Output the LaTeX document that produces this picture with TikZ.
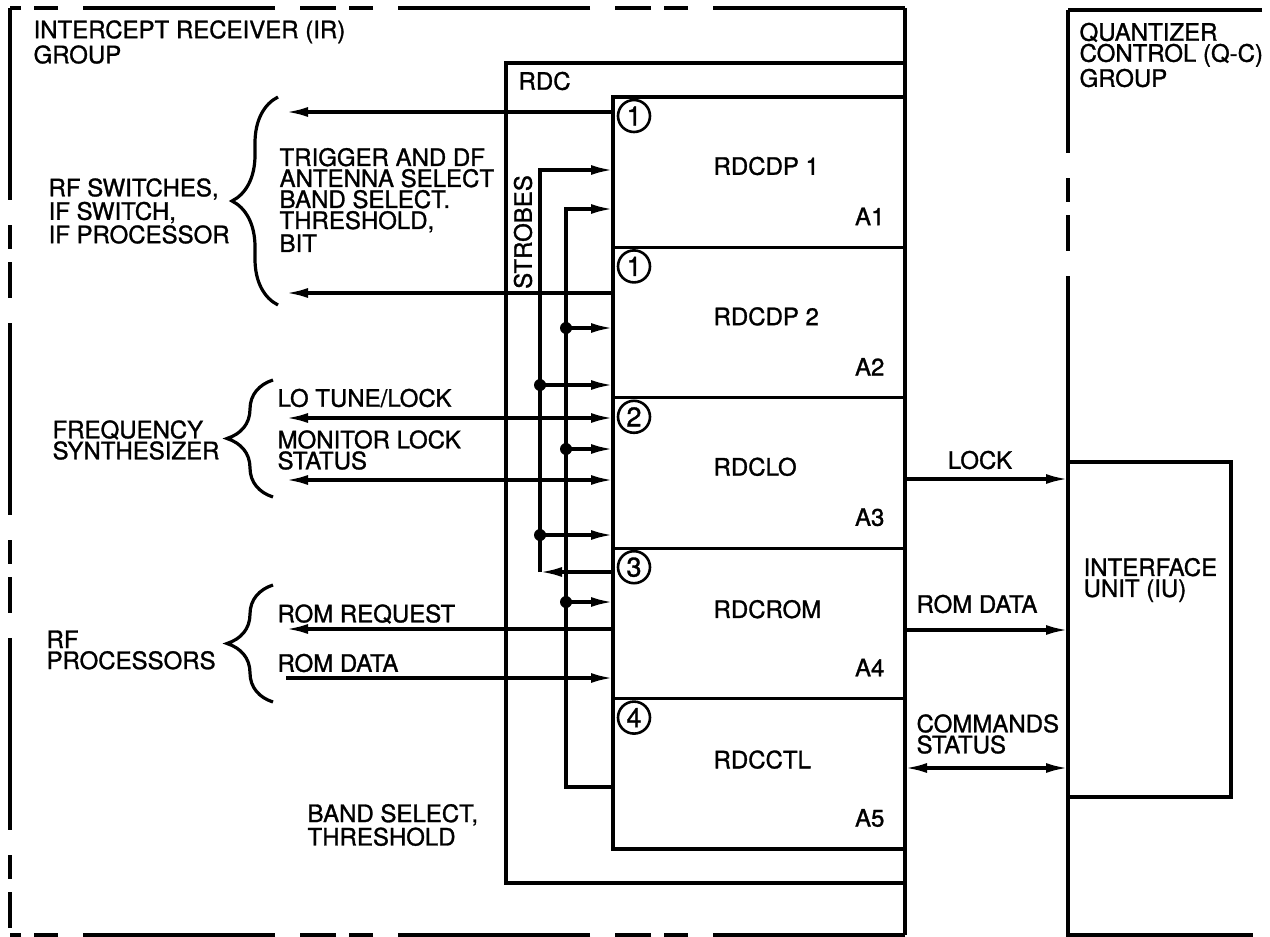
\documentclass[tikz,border=0pt]{standalone}
\usepackage{fontspec}
\setmainfont{TeX Gyre Heros}[FakeBold=1.2]
\usetikzlibrary{arrows.meta, positioning, decorations.pathreplacing}

\begin{document}
\begin{tikzpicture}[
x=0.5pt, y=-0.5pt,
line width=1.6pt,
font=\fontsize{12}{10.5}\selectfont,
box/.style={rectangle, draw, minimum width=146pt, minimum height=75.2pt,
inner sep=0pt, outer sep=0pt},
txt/.style={inner sep=0pt, anchor=west, align=left},
num/.style={circle, draw, line width=1.3pt, minimum size=16pt, inner sep=0pt,
font=\fontsize{13.5}{13.5}\selectfont},
arrow/.style={-{Latex[length=11pt, width=5pt]}},
twoway/.style={{Latex[length=11pt, width=5pt]}-{Latex[length=11pt, width=5pt]}},
grpdash/.style={dash pattern=on 96pt off 12.5pt on 12pt off 6.5pt on 18pt off 12.5pt},
curly/.style={decorate, decoration={brace, amplitude=23pt}}
]
\useasboundingbox (0,0) rectangle (1270,937);

% group outlines
\draw[grpdash] (905,8) -- (10,8);
\draw[grpdash] (10,8) -- (10,935);
\draw[grpdash] (905,935) -- (10,935);
\draw (905,8) -- (905,935);
\draw[grpdash, dash phase=24.5pt] (1068,10) -- (1068,462);
\draw (1262,10) -- (1068,10) (1068,462) -- (1068,935) -- (1253,935);

\node[txt] (irlbl) at (32,42) {INTERCEPT RECEIVER (IR)\\GROUP};
\node[txt] (qclbl) at (1078,55) {QUANTIZER\\CONTROL (Q-C)\\GROUP};

% RDC and its cards
\node[box, minimum width=199.5pt, minimum height=410pt] (rdc) at (705.5,473) {};
\node[txt] (rdclbl) at (517,81) {RDC};
\node[txt, rotate=90, anchor=center] (strobes) at (523,232) {STROBES};

\node[box] (dp1) at (759,172.2) {};
\node[box, below=0pt of dp1] (dp2) {};
\node[box, below=0pt of dp2] (lo) {};
\node[box, below=0pt of lo] (rom) {};
\node[box, below=0pt of rom] (ctl) {};

\node[num] (n1) at ([shift={(21,19)}]dp1.north west) {1};
\node[num] (n1b) at ([shift={(21,19)}]dp2.north west) {1};
\node[num] (n2) at ([shift={(21,19)}]lo.north west) {2};
\node[num] (n3) at ([shift={(21,19)}]rom.north west) {3};
\node[num] (n4) at ([shift={(21,19)}]ctl.north west) {4};

\node[txt] (dp1name) at ([shift={(99,69)}]dp1.north west) {RDCDP 1};
\node[txt] (dp2name) at ([shift={(99,69)}]dp2.north west) {RDCDP 2};
\node[txt] (loname) at ([shift={(99,69)}]lo.north west) {RDCLO};
\node[txt] (romname) at ([shift={(99,61)}]rom.north west) {RDCROM};
\node[txt] (ctlname) at ([shift={(99,61)}]ctl.north west) {RDCCTL};

\node[txt, anchor=east] (a1) at ([shift={(-19,-31)}]dp1.south east) {A1};
\node[txt, anchor=east] (a2) at ([shift={(-19,-31)}]dp2.south east) {A2};
\node[txt, anchor=east] (a3) at ([shift={(-19,-31)}]lo.south east) {A3};
\node[txt, anchor=east] (a4) at ([shift={(-19,-31)}]rom.south east) {A4};
\node[txt, anchor=east] (a5) at ([shift={(-19,-31)}]ctl.south east) {A5};

% interface unit
\node[box, minimum width=81.5pt, minimum height=167.5pt] (iu) at (1149.5,629.5) {};
\node[txt] (iulbl) at (1082,580) {INTERFACE\\UNIT (IU)};

% strobe buses
\coordinate (sa0) at (540,170);
\coordinate (sa1) at (540,385);
\coordinate (sa2) at (540,535);
\coordinate (sa3) at (540,572);
\coordinate (sb0) at (566,209);
\coordinate (sb1) at (566,328);
\coordinate (sb2) at (566,449);
\coordinate (sb3) at (566,602);
\coordinate (sb4) at (566,787);

\draw[arrow] (sa3 -| rom.west) -- (sa3);
\draw[arrow] (sa3) -- (sa0) -- (sa0 -| dp1.west);
\draw[arrow] (sb4 -| ctl.west) -- (sb4) -- (sb0) -- (sb0 -| dp1.west);
\foreach \p in {sa1,sa2,sb1,sb2,sb3} {
\fill (\p) circle (3pt);
\draw[arrow] (\p) -- (\p -| dp1.west);
}

% IR side
\coordinate (trig1) at (286,112);
\coordinate (trig2) at (286,293);
\coordinate (lotune) at (286,418);
\coordinate (monlock) at (286,480);
\coordinate (romreq) at (286,629);
\coordinate (romdat) at (286,678);

\draw[arrow] (trig1 -| dp1.west) -- (trig1);
\draw[arrow] (trig2 -| dp2.west) -- (trig2);
\draw[twoway] (lotune) -- (lotune -| lo.west);
\draw[twoway] (monlock) -- (monlock -| lo.west);
\draw[arrow] (romreq -| rom.west) -- (romreq);
\draw[arrow] (romdat) -- (romdat -| rom.west);

\draw[curly] (278,305) -- (278,97);
\draw[curly] (273,497) -- (273,380);
\draw[curly] (273,702) -- (273,585);

\node[txt] (rfsw) at (47,211) {RF SWITCHES,\\IF SWITCH,\\IF PROCESSOR};
\node[txt] (trigtxt) at (278,200) {TRIGGER AND DF\\ANTENNA SELECT\\BAND SELECT.\\THRESHOLD,\\BIT};
\node[txt] (synth) at (51,440) {FREQUENCY\\SYNTHESIZER};
\node[txt] (lotxt) at (276,398) {LO TUNE/LOCK};
\node[txt] (montxt) at (276,450) {MONITOR LOCK\\STATUS};
\node[txt] (rfproc) at (45,650) {RF\\PROCESSORS};
\node[txt] (reqtxt) at (276,614) {ROM REQUEST};
\node[txt] (dattxt) at (276,663) {ROM DATA};
\node[txt] (bandtxt) at (306,825) {BAND SELECT,\\THRESHOLD};

% Q-C side
\draw[arrow] ([yshift=-3pt]lo.east) -- ([yshift=-3pt]lo.east -| iu.west);
\draw[arrow] ([yshift=-3.3pt]rom.east) -- ([yshift=-3.3pt]rom.east -| iu.west);
\draw[twoway] ([yshift=2.9pt]ctl.east) -- ([yshift=2.9pt]ctl.east -| iu.west);

\node (locktxt) at (980,460) {LOCK};
\node[txt] (romout) at (915,604) {ROM DATA};
\node[txt] (cmdtxt) at (915,734) {COMMANDS\\STATUS};

\end{tikzpicture}
\end{document}
